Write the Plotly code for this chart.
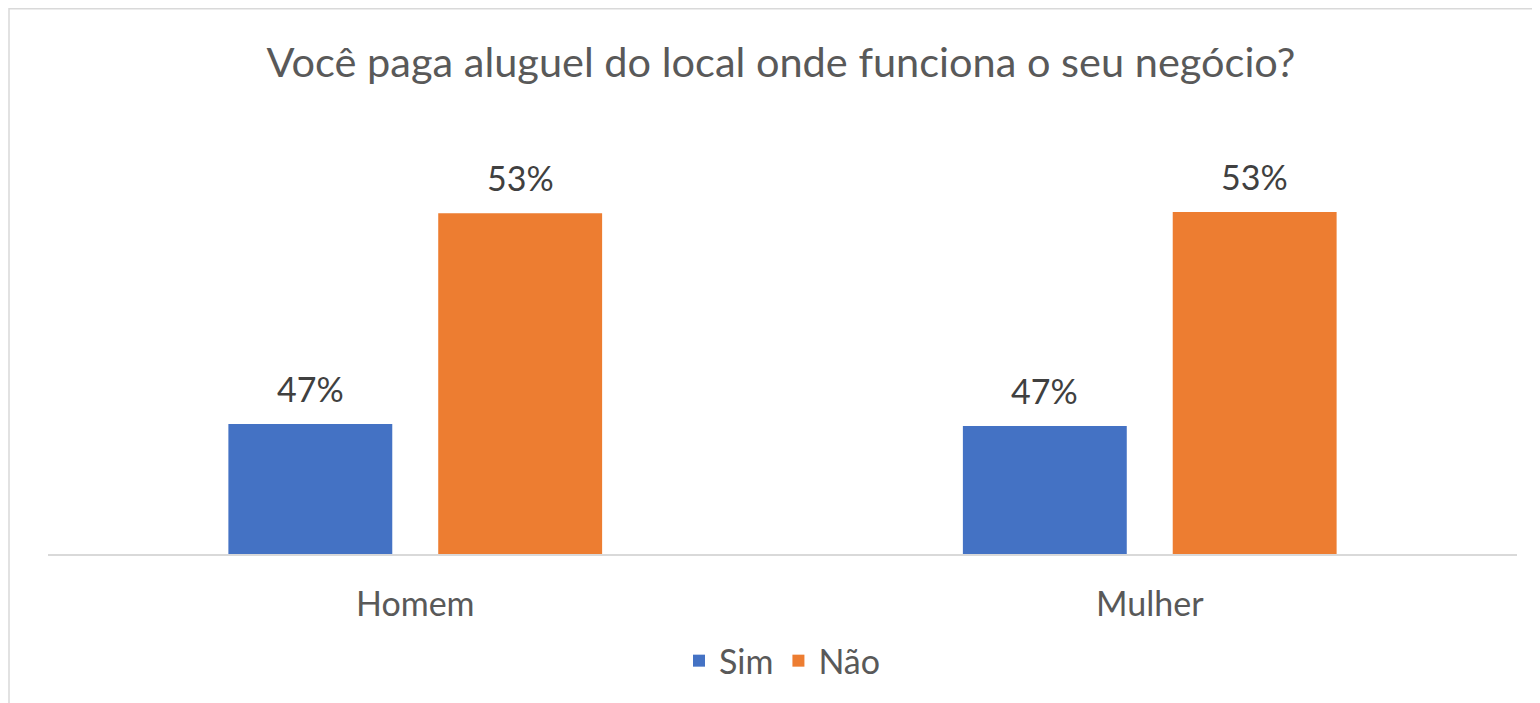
import plotly.graph_objects as go

categories = ["Homem", "Mulher"]
sim_values = [0.4686, 0.468]
nao_values = [0.5312, 0.5316]
series_names = ["Sim", "Não"]
sim_labels = ["47%", "47%"]
nao_labels = ["53%", "53%"]
title_text = "Você paga aluguel do local onde funciona o seu negócio?"

FONT = "Lato"
W, H = 1532, 695
L, T, PW, PH = 40, 142, 1469, 404

fig = go.Figure()
fig.add_trace(go.Bar(
    name=series_names[0], x=categories, y=sim_values,
    marker=dict(color="#4472C4", line=dict(width=0)),
))
fig.add_trace(go.Bar(
    name=series_names[1], x=categories, y=nao_values,
    marker=dict(color="#ED7D31", line=dict(width=0)),
))

annotations = []
for vals, labels, shift in [(sim_values, sim_labels, -105), (nao_values, nao_labels, 105)]:
    for c, v, t in zip(categories, vals, labels):
        annotations.append(dict(
            x=c, y=v, xref="x", yref="y", text=t, showarrow=False,
            xanchor="center", yanchor="bottom", xshift=shift, yshift=13,
            font=dict(family=FONT, size=34, color="#404040"),
        ))

fig.update_layout(
    width=W, height=H,
    margin=dict(l=L, r=W - L - PW, t=T, b=H - T - PH),
    paper_bgcolor="white", plot_bgcolor="white",
    barmode="group", bargap=0.4286, bargroupgap=0.219,
    title=dict(text=title_text, x=0.5045, xanchor="center", y=1 - 54 / H,
               yanchor="middle", yref="container",
               font=dict(family=FONT, size=41.5, color="#595959")),
    legend=dict(orientation="h", x=0.5, xanchor="center", y=-0.265,
                yanchor="middle", font=dict(family=FONT, size=34, color="#595959"),
                itemclick=False, itemdoubleclick=False),
    showlegend=True,
    annotations=annotations,
    shapes=[dict(type="rect", xref="paper", yref="paper",
                 x0=(1 - L) / PW, x1=(1600 - L) / PW,
                 y0=(T + PH - 760) / PH, y1=(T + PH - 0.75) / PH,
                 line=dict(color="#D9D9D9", width=1.5), layer="below")],
)
fig.update_xaxes(showline=True, linecolor="#D9D9D9", linewidth=1.5,
                 showgrid=False, ticks="", ticklabelstandoff=19,
                 tickfont=dict(family=FONT, size=34, color="#595959"))
fig.update_yaxes(visible=False, range=[0.43, 0.55], showgrid=False, zeroline=False)

fig.write_html("out.html")
